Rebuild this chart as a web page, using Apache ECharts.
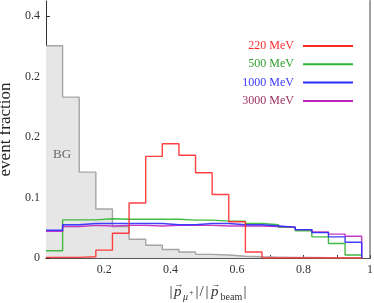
<!DOCTYPE html>
<html>
<head>
<meta charset="utf-8">
<script src="https://cdn.jsdelivr.net/npm/echarts@6/dist/echarts.min.js"></script>
<style>
html,body{margin:0;padding:0;background:#fff;}
#chart{width:374px;height:303px;}
</style>
</head>
<body>
<div id="chart"></div>
<script>
// ---- data ----
const binCenters = [0.05,0.10,0.15,0.20,0.25,0.30,0.35,0.40,0.45,0.50,0.55,0.60,0.65,0.70,0.75,0.80,0.85,0.90,0.95];
const binWidth = 0.05;
const seriesNames = ['220 MeV','500 MeV','1000 MeV','3000 MeV'];
const bgValues     = [0.351,0.266,0.142,0.081,0.052,0.031,0.021,0.014,0.010,0.006,0.005,0.003,0.002,0.0015,0.001,0.0008,0.0005,0.0003,0.0002];
const mev220Values = [0.001,0.001,0.002,0.013,0.041,0.091,0.168,0.189,0.170,0.141,0.105,0.060,0.010,0,0,0,0,0,0];
const mev500Values = [0.012,0.063,0.063,0.065,0.064,0.064,0.064,0.064,0.0626,0.0626,0.061,0.061,0.057,0.055,0.0506,0.045,0.035,0.024,0.005];
const mev1000Values= [0.046,0.055,0.057,0.057,0.057,0.057,0.057,0.055,0.055,0.057,0.057,0.055,0.055,0.053,0.051,0.047,0.042,0.035,0.026];
const mev3000Values= [0.044,0.052,0.054,0.053,0.054,0.054,0.053,0.054,0.054,0.054,0.053,0.053,0.053,0.052,0.051,0.047,0.043,0.0395,0.036];
const xTickValues  = [0.1,0.2,0.3,0.4,0.5,0.6,0.7,0.8,0.9,1.0];
const xLabelValues = [0.2,0.4,0.6,0.8,1.0];
const xLabelTexts  = ['0.2','0.4','0.6','0.8','1'];
const yTickValues  = [0,0.1,0.2,0.3,0.4];
const yLabelTexts  = ['0','0.1','0.2','0.2','0.4'];

const serif = '"Liberation Serif", "DejaVu Serif", serif';
const colors = {bgLine:'#9c9c9c', bgFill:'#e6e6e6', red:'#ff2b2b', green:'#2fb22f', blue:'#2b2bff', purple:'#c023c0'};
const legendTextColors = ['#ff2b2b','#2f9e2f','#3a3aff','#9c2f5e'];

function stepPoints(vals){
  const pts = vals.map((v,i)=>[binCenters[i]-binWidth/2, v]);
  const last = binCenters.length-1;
  const edge = binCenters[last]+binWidth/2;
  pts.push([edge, vals[last]]);
  pts.push([edge, 0]);
  return pts;
}
function lineSeries(name, vals, color, z){
  return {name, type:'line', step:'end', data: stepPoints(vals), showSymbol:false, symbol:'none',
    lineStyle:{color, width:1.4, opacity:0.9}, itemStyle:{color}, z, silent:true, animation:false};
}

const chart = echarts.init(document.getElementById('chart'), null, {renderer:'canvas'});
const legends = seriesNames.map((n,i)=>({
  data:[{name:n, textStyle:{color:legendTextColors[i]}}],
  right:16, top:35 + i*18.3, orient:'horizontal', align:'right',
  itemWidth:50, itemHeight:2, icon:'rect', selectedMode:false,
  textStyle:{fontFamily:serif, fontSize:12, padding:[0,4,0,0]}
}));

const txt = '#333';
function t(text, x, y, size, extra){
  return Object.assign({type:'text', x, y, z:100, silent:true,
    style:Object.assign({text, fontFamily:'Liberation Serif', fontSize:size, fill:txt, verticalAlign:'middle', align:'left'}, extra||{})});
}

chart.setOption({
  animation:false,
  backgroundColor:'#fff',
  grid:{left:46, right:4, top:1, bottom:45, containLabel:false, outerBoundsMode:'none'},
  legend: legends,
  xAxis:[{
    type:'value', min:0.025, max:1.0,
    splitLine:{show:false},
    axisLine:{show:true, lineStyle:{color:'#444', width:1}},
    axisTick:{show:true, inside:true, length:3, customValues:xTickValues, lineStyle:{color:'#444'}},
    axisLabel:{customValues:xLabelValues, margin:6, fontFamily:serif, fontSize:12, color:txt,
      formatter:(v)=>{const i = xLabelValues.findIndex(q=>Math.abs(q-v)<1e-6); return i>=0?xLabelTexts[i]:'';}}
  },{
    type:'value', position:'top', min:0.025, max:1.0,
    axisLine:{show:true, lineStyle:{color:'#555', width:1}},
    axisTick:{show:false}, axisLabel:{show:false}, splitLine:{show:false}
  }],
  yAxis:[{
    type:'value', min:0, max:0.425,
    splitLine:{show:false},
    axisLine:{show:true, lineStyle:{color:'#333', width:1}},
    axisTick:{show:true, inside:true, length:4, customValues:yTickValues, lineStyle:{color:'#333'}},
    axisLabel:{customValues:yTickValues, margin:6, fontFamily:serif, fontSize:12, color:txt,
      formatter:(v)=>{const i = yTickValues.findIndex(q=>Math.abs(q-v)<1e-6); return i>=0?yLabelTexts[i]:'';}},
    name:'event fraction', nameLocation:'middle', nameGap:28, nameRotate:90,
    nameTextStyle:{fontFamily:serif, fontSize:17, color:'#222'}
  },{
    type:'value', position:'right', min:0, max:0.425,
    axisLine:{show:true, lineStyle:{color:'#a0a0a0', width:2}},
    axisTick:{show:false}, axisLabel:{show:false}, splitLine:{show:false}
  }],
  graphic:[
    t('BG', 53, 155, 13, {fill:'#666'}),
    // x-axis title |p_mu+| / |p_beam|
    t('|', 169.5, 292, 15),
    t('p', 174, 292, 15, {fontStyle:'italic'}),
    t('\u2192', 174.5, 285, 9),
    t('\u03BC', 183, 297, 10, {fontStyle:'italic'}),
    t('+', 189, 292.5, 8),
    t('|', 195.5, 292, 15),
    t('/', 199.5, 292, 15),
    t('|', 205.5, 292, 15),
    t('p', 211, 292, 15, {fontStyle:'italic'}),
    t('\u2192', 211.5, 285, 9),
    t('beam', 220.5, 297, 10),
    t('|', 243.5, 292, 15)
  ],
  series:[
    Object.assign(lineSeries('BG', bgValues, colors.bgLine, 1), {areaStyle:{color:colors.bgFill, opacity:1}}),
    lineSeries(seriesNames[1], mev500Values, colors.green, 2),
    lineSeries(seriesNames[3], mev3000Values, colors.purple, 3),
    lineSeries(seriesNames[2], mev1000Values, colors.blue, 4),
    lineSeries(seriesNames[0], mev220Values, colors.red, 5)
  ]
});
</script>
</body>
</html>
